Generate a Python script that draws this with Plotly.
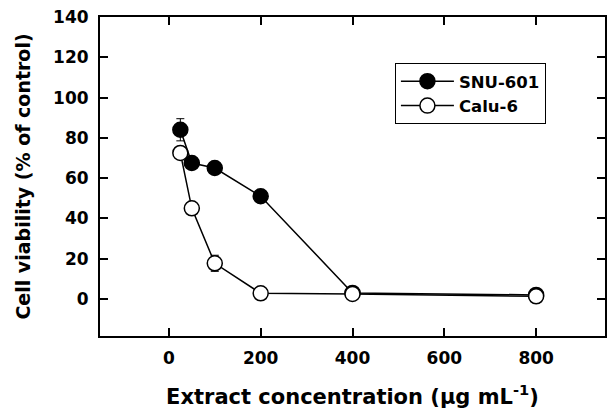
import plotly.graph_objects as go

conc = [25, 50, 100, 200, 400, 800]
snu601 = [84, 67.5, 65, 51, 3, 2]
snu601_err = [5.5, 1.5, 1.5, 1.5, 1, 1]
calu6 = [72.5, 45, 17.7, 2.8, 2.5, 1.3]
calu6_err = [2, 2, 4, 1, 1, 1]

x_ticks = [0, 200, 400, 600, 800]
y_ticks = [0, 20, 40, 60, 80, 100, 120, 140]

FONT = "DejaVu Sans"

fig = go.Figure()
fig.add_trace(go.Scatter(
    x=conc, y=snu601, name="SNU-601", mode="lines+markers",
    line=dict(color="black", width=1.5),
    marker=dict(size=15, color="black", line=dict(color="black", width=1.5)),
    error_y=dict(type="data", array=snu601_err, color="black", thickness=1, width=4),
))
fig.add_trace(go.Scatter(
    x=conc, y=calu6, name="Calu-6", mode="lines+markers",
    line=dict(color="black", width=1.5),
    marker=dict(size=15, color="white", line=dict(color="black", width=1.5)),
    error_y=dict(type="data", array=calu6_err, color="black", thickness=1, width=4),
))

axis_common = dict(
    showgrid=False, zeroline=False, showline=True, linecolor="black", linewidth=2,
    mirror="ticks", ticks="inside", ticklen=8, tickwidth=2, tickcolor="black",
    automargin=False,
    tickfont=dict(family=FONT, size=17, color="black", weight="bold"),
)
fig.update_xaxes(range=[-150, 950], tickvals=x_ticks, **axis_common, ticklabelstandoff=6,
                 title=dict(text="Extract concentration (μg mL<sup>-1</sup>)",
                            font=dict(family=FONT, size=21, color="black", weight="bold"),
                            standoff=23))
fig.update_yaxes(range=[-18.4, 140], tickvals=y_ticks, **axis_common, ticklabelstandoff=6,
                 title=dict(text="Cell viability (% of control)",
                            font=dict(family=FONT, size=19, color="black", weight="bold"),
                            standoff=17))

fig.update_layout(
    width=607, height=409,
    margin=dict(l=100, r=2, t=17, b=73),
    plot_bgcolor="white", paper_bgcolor="white",
    showlegend=True,
    legend=dict(x=0.584, y=0.856, xanchor="left", yanchor="top",
                bordercolor="black", borderwidth=1, bgcolor="white",
                font=dict(family=FONT, size=16.5, color="black", weight="bold"),
                tracegroupgap=0, itemwidth=53),
)

fig.write_html(
    "out.html",
    config={"displayModeBar": False},
    post_script="document.body.style.margin='0';document.body.style.overflow='hidden';",
)
